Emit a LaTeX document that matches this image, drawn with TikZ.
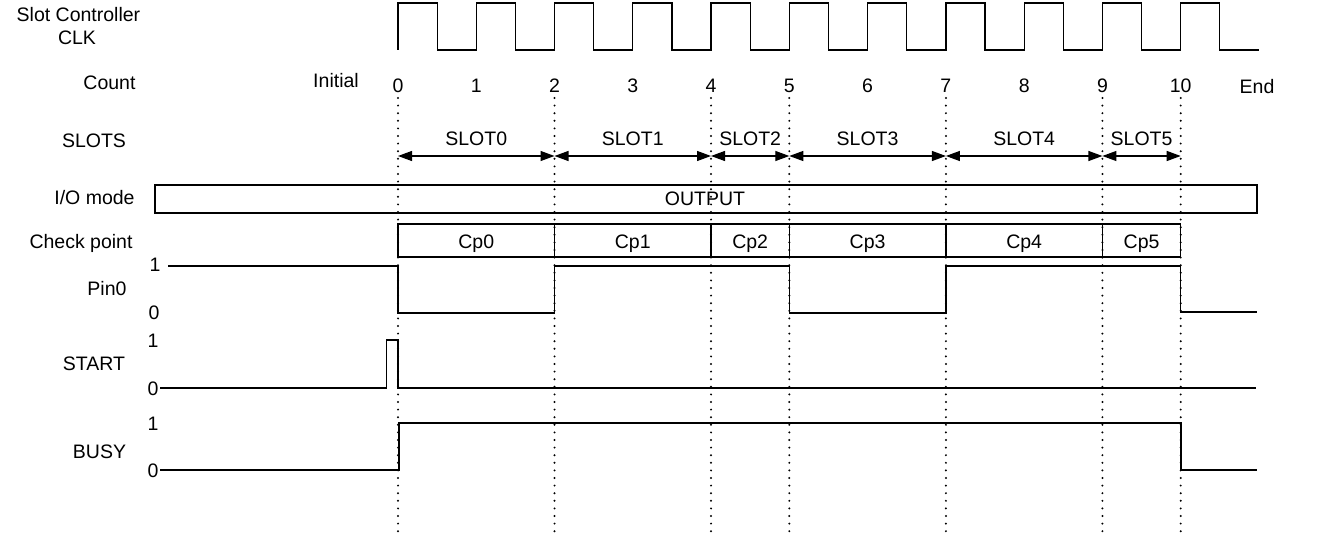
\documentclass[tikz,border=0pt]{standalone}
\usepackage{fontspec}
\setmainfont{Liberation Sans}
\usetikzlibrary{arrows.meta}

\begin{document}
\begin{tikzpicture}[x=1pt,y=-1pt,
    sig/.style={line width=1.2pt},
    grid/.style={line width=2.2pt,line cap=round,dash pattern=on 0pt off 7.6pt},
    span/.style={line width=1.2pt,{Triangle[length=14pt,width=10pt]}-{Triangle[length=14pt,width=10pt]}},
    lbl/.style={font=\fontsize{19.5}{23}\selectfont,inner sep=0pt,anchor=base}]
    \useasboundingbox (0,0) rectangle (1324,545);

    % row names
    \node[lbl] (clkname) at (78.5,21.5) {Slot Controller};
    \node[lbl] (clkname2) at (77,45) {CLK};
    \node[lbl] (cntname) at (109.5,90) {Count};
    \node[lbl] (init) at (336,88) {Initial};
    \node[lbl] (slotname) at (94,148) {SLOTS};
    \node[lbl] (ioname) at (94.5,205) {I/O mode};
    \node[lbl] (cpname) at (81,249) {Check point};
    \node[lbl] (pinname) at (107,295) {Pin0};
    \node[lbl] (startname) at (94,370) {START};
    \node[lbl] (busyname) at (99.5,458) {BUSY};

    % levels
    \node[lbl] (pin1) at (155,272) {1};
    \node[lbl] (pin0) at (154,319) {0};
    \node[lbl] (start1) at (153,347) {1};
    \node[lbl] (start0) at (153,395) {0};
    \node[lbl] (busy1) at (153,430) {1};
    \node[lbl] (busy0) at (153,477) {0};

    % slot boundaries
    \foreach \i/\x in {0/398,2/554.5,4/711,5/789.3,7/945.9,9/1102.4,10/1180.7} {
        \coordinate (top\i) at (\x,98);
        \coordinate (bot\i) at (\x,535);
        \coordinate (sl\i) at (\x,156);
        \coordinate (cpt\i) at (\x,224);
        \coordinate (cpb\i) at (\x,257);
        \draw[grid] (top\i) -- (bot\i);
    }

    % clock
    \draw[sig] (398,50) \foreach \i in {0,...,10} {-- ++(0,-47) -- ++(39.135,0) -- ++(0,47) -- ++(39.135,0)};

    % count
    \foreach \i in {0,...,10}
        \node[lbl] (cnt\i) at ({398+78.27*\i},93) {\i};
    \node[lbl] (cntend) at (1257,94) {End};

    % slots and check points
    \foreach \a/\b/\n in {0/2/0,2/4/1,4/5/2,5/7/3,7/9/4,9/10/5} {
        \draw[span] (sl\a) -- (sl\b) node[midway,lbl,yshift=10pt] (slot\n) {SLOT\n};
        \draw[sig] (cpt\a) rectangle (cpb\b);
        \path (cpt\a) -- (cpb\b) node[midway,lbl,yshift=-7.5pt] (cp\n) {Cp\n};
    }

    % I/O mode
    \draw[sig] (155,185) rectangle (1257,213);
    \node[lbl] (out) at (705,206) {OUTPUT};

    % Pin0
    \draw[sig] (168,266) -- (398,266) -- (398,313) -- (554.5,313) -- (554.5,266) -- (789.3,266)
        -- (789.3,313) -- (945.9,313) -- (945.9,266) -- (1180.7,266) -- (1180.7,312) -- (1257,312);
    % START
    \draw[sig] (160,388) -- (386.5,388) -- (386.5,340) -- (398,340) -- (398,388) -- (1256,388);
    % BUSY
    \draw[sig] (160,470) -- (399,470) -- (399,423) -- (1181,423) -- (1181,470) -- (1257,470);
\end{tikzpicture}
\end{document}
